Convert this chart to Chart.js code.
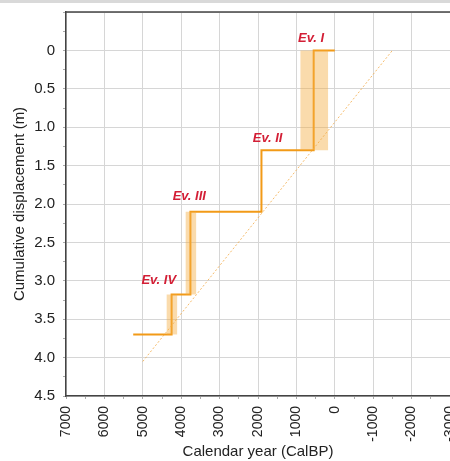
<!DOCTYPE html>
<html lang="en">
<head>
<meta charset="utf-8">
<script src="https://cdn.jsdelivr.net/npm/chart.js@4.4.0/dist/chart.umd.min.js"></script>
<style>
  body { margin: 0; overflow: hidden; background: #fff; }
  #topbar { position: absolute; left: 0; top: 0; width: 450px; height: 3px; background: #d9d9d9; }
  #wrap { position: absolute; left: 0; top: 0; width: 480px; height: 461px; }
</style>
</head>
<body>
<div id="wrap"><canvas id="myChart" width="480" height="461"></canvas></div>
<div id="topbar"></div>
<script>
// step line (calendar year BP vs cumulative displacement)
var stepX = [5250, 4250, 3760, 1910, 550, 0];
var stepY = [3.7, 3.18, 2.1, 1.3, 0, 0];

// age uncertainty bands for events
var bandFrom = [900, 3890, 4385];
var bandTo = [170, 3605, 4100];
var bandTop = [0, 2.1, 3.18];
var bandBottom = [1.3, 3.18, 3.7];

// long-term trend line
var trendX = [5000, -1500];
var trendY = [4.05, 0];

// event labels
var evNames = ["Ev. I", "Ev. II", "Ev. III", "Ev. IV"];
var evX = [620, 1750, 3790, 4585];
var evY = [-0.16, 1.14, 1.9, 3.0];

var font = "'Liberation Sans', Arial, Helvetica, sans-serif";

function pts(xs, ys) {
  return xs.map(function (x, i) { return { x: x, y: ys[i] }; });
}

var datasets = [];
for (var i = 0; i < bandFrom.length; i++) {
  datasets.push({
    data: pts([bandFrom[i], bandTo[i]], [bandTop[i], bandTop[i]]),
    fill: { value: bandBottom[i] },
    backgroundColor: "rgba(245, 175, 70, 0.45)",
    borderWidth: 0,
    pointRadius: 0
  });
}
datasets.push({
  data: pts(trendX, trendY),
  borderColor: "rgba(243, 170, 70, 0.8)",
  borderWidth: 1,
  borderDash: [2, 2],
  pointRadius: 0,
  fill: false
});
datasets.push({
  data: pts(stepX, stepY),
  borderColor: "#f29a17",
  borderWidth: 2,
  stepped: "before",
  pointRadius: 0,
  fill: false
});

var frame = {
  id: "frame",
  afterDatasetsDraw: function (c) {
    var a = c.chartArea, ctx = c.ctx;
    ctx.save();
    ctx.strokeStyle = "#444";
    ctx.lineWidth = 1.5;
    ctx.beginPath();
    ctx.moveTo(a.left, a.top);
    ctx.lineTo(a.right + 1, a.top);
    ctx.stroke();
    ctx.font = "italic bold 13px " + font;
    ctx.fillStyle = "#d31f36";
    ctx.textAlign = "center";
    ctx.textBaseline = "middle";
    for (var k = 0; k < evNames.length; k++) {
      ctx.fillText(evNames[k], c.scales.x.getPixelForValue(evX[k]), c.scales.y.getPixelForValue(evY[k]));
    }
    ctx.restore();
  }
};

var ctx = document.getElementById("myChart").getContext("2d");
var myChart = new Chart(ctx, {
  type: "line",
  data: { datasets: datasets },
  plugins: [frame],
  options: {
    responsive: false,
    animation: false,
    layout: { padding: { top: 12, right: 30, left: 0, bottom: 0 } },
    plugins: { legend: { display: false }, tooltip: { enabled: false } },
    scales: {
      x: {
        type: "linear",
        reverse: true,
        min: -3000,
        max: 7000,
        afterFit: function (s) { s.height = 65; },
        border: { color: "#444", width: 1.5 },
        grid: {
          color: function (c) { return c.tick && c.tick.value % 1000 === 0 ? "#d6d6d6" : "rgba(0,0,0,0)"; },
          tickColor: "#aaa",
          tickLength: 3
        },
        ticks: {
          stepSize: 500,
          autoSkip: false,
          minRotation: 90,
          maxRotation: 90,
          padding: 7,
          color: "#222",
          font: { family: font, size: 14 },
          callback: function (v) { return v % 1000 === 0 ? String(v) : ""; }
        },
        title: {
          display: true,
          text: "Calendar year (CalBP)",
          color: "#222",
          font: { family: font, size: 15 },
          padding: { top: 5, bottom: 0 }
        }
      },
      y: {
        type: "linear",
        reverse: true,
        min: -0.5,
        max: 4.5,
        afterFit: function (s) { s.width = 66; s.paddingTop = 0; s.paddingBottom = 0; },
        border: { color: "#444", width: 1.5 },
        grid: {
          color: function (c) { return c.tick && Math.abs(c.tick.value * 2 - Math.round(c.tick.value * 2)) < 1e-6 ? "#d6d6d6" : "rgba(0,0,0,0)"; },
          tickColor: "#aaa",
          tickLength: 3
        },
        ticks: {
          stepSize: 0.25,
          autoSkip: false,
          padding: 8,
          color: "#222",
          font: { family: font, size: 15 },
          callback: function (v) {
            if (v < 0) return "";
            if (Math.abs(v * 2 - Math.round(v * 2)) > 1e-6) return "";
            return v === 0 ? "0" : v.toFixed(1);
          }
        },
        title: {
          display: true,
          text: "Cumulative displacement (m)",
          color: "#222",
          font: { family: font, size: 15 },
          padding: { top: 11, bottom: 0 }
        }
      }
    }
  }
});
</script>
</body>
</html>
